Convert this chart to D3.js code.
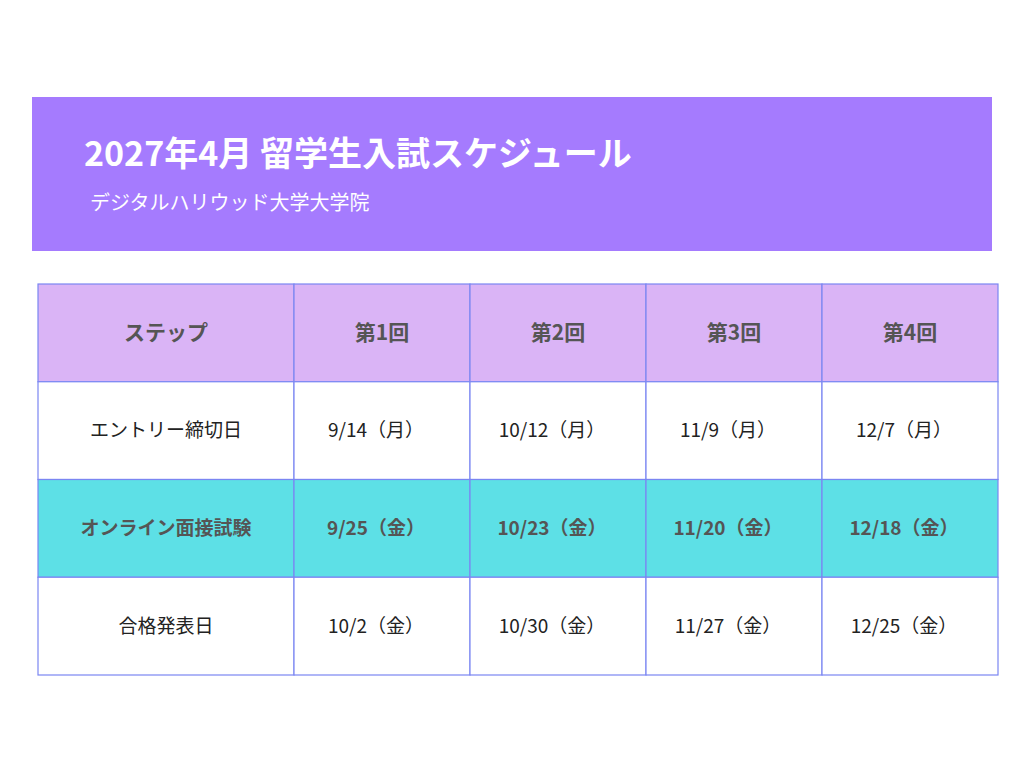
<!DOCTYPE html>
<html>
<head>
<meta charset="utf-8">
<script src="https://cdn.jsdelivr.net/npm/d3@7"></script>
<style>
  body { margin: 0; background: #fff; }
  text { font-family: "Noto Sans CJK JP", "Noto Sans", sans-serif; }
</style>
</head>
<body>
<svg id="chart" width="1024" height="768"></svg>
<script>
const title = "2027年4月 留学生入試スケジュール";
const subtitle = "デジタルハリウッド大学大学院";
const headers = ["ステップ", "第1回", "第2回", "第3回", "第4回"];
const steps = ["エントリー締切日", "オンライン面接試験", "合格発表日"];
const round1 = ["9/14（月）", "9/25（金）", "10/2（金）"];
const round2 = ["10/12（月）", "10/23（金）", "10/30（金）"];
const round3 = ["11/9（月）", "11/20（金）", "11/27（金）"];
const round4 = ["12/7（月）", "12/18（金）", "12/25（金）"];

const svg = d3.select("#chart");

// header band
svg.append("rect").attr("x", 32).attr("y", 97).attr("width", 960).attr("height", 154).attr("fill", "#a57bfe");
svg.append("text").attr("x", 84).attr("y", 166).attr("fill", "#fff")
  .attr("font-size", 34).attr("font-weight", "bold").text(title);
svg.append("text").attr("x", 90).attr("y", 210).attr("fill", "#fff")
  .attr("font-size", 20).text(subtitle);

// table
const rows = [headers].concat(steps.map((s, i) => [s, round1[i], round2[i], round3[i], round4[i]]));
const colEdges = [38, 294, 470, 646, 822, 998];
const y = d3.scaleBand().domain(d3.range(rows.length)).range([284, 675]);
const rowFill = i => i === 0 ? "#dab4f6" : i === 2 ? "#5de0e6" : "#fff";
const bold = i => i === 0 || i === 2;

const g = svg.append("g");
rows.forEach((row, ri) => {
  row.forEach((cell, ci) => {
    const x0 = colEdges[ci], x1 = colEdges[ci + 1];
    g.append("rect").attr("x", x0).attr("y", y(ri))
      .attr("width", x1 - x0).attr("height", y.bandwidth())
      .attr("fill", rowFill(ri)).attr("stroke", "#7b86f2").attr("stroke-width", 1.2);
    g.append("text").attr("x", (x0 + x1) / 2 - (ci > 0 && ri > 0 ? 6 : 0))
      .attr("y", y(ri) + y.bandwidth() / 2)
      .attr("dy", "0.35em").attr("text-anchor", "middle")
      .attr("font-size", ri === 0 ? 21 : 19)
      .attr("font-weight", bold(ri) ? "bold" : "normal")
      .attr("fill", ri === 0 || ri === 2 ? "#555" : "#222")
      .text(cell);
  });
});
</script>
</body>
</html>
